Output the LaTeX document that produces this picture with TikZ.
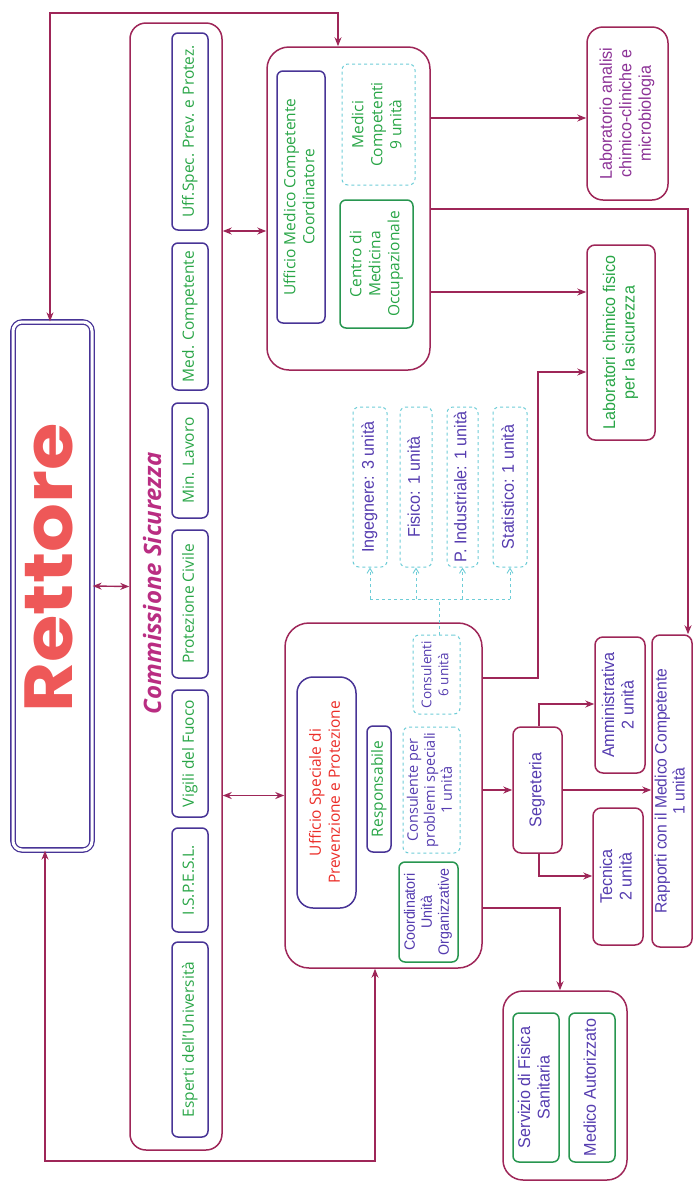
\documentclass[tikz,border=0pt]{standalone}
\usepackage{fontspec}
\usepackage{graphicx}
\usetikzlibrary{arrows.meta}
\setmainfont{Open Sans}
\newfontfamily\narrowf{Liberation Sans}[FakeStretch=0.95]
\newfontfamily\rettfont{Poppins}
\definecolor{maroon}{RGB}{158,38,88}
\definecolor{bv}{RGB}{72,52,150}
\definecolor{grn}{RGB}{40,165,70}
\definecolor{grnb}{RGB}{40,150,80}
\definecolor{cyanb}{RGB}{110,205,215}
\definecolor{bvt}{RGB}{85,60,175}
\definecolor{redt}{RGB}{235,45,40}
\definecolor{magt}{RGB}{185,45,130}
\definecolor{coral}{RGB}{238,88,88}
\definecolor{purp}{RGB}{140,50,150}
\newcommand{\vtext}[2]{\rotatebox{90}{#1\begin{tabular}{@{}c@{}}#2\end{tabular}}}
\newcommand{\cf}{\fontsize{15.5}{19}\selectfont}
\newcommand{\nf}{\narrowf\fontsize{17}{19.5}\selectfont}
\tikzset{
  outerbox/.style={draw=maroon, line width=1.5pt, rounded corners=18pt, inner sep=0pt},
  inbox/.style={draw=bv, line width=1.5pt, rounded corners=6pt, inner sep=0pt, align=center},
  gbox/.style={draw=grnb, line width=1.5pt, rounded corners=6pt, inner sep=0pt, align=center},
  dbox/.style={draw=cyanb, dashed, line width=1pt, rounded corners=6pt, inner sep=0pt, align=center},
  mbox/.style={draw=maroon, line width=1.5pt, rounded corners=8pt, inner sep=0pt, align=center},
  conn/.style={draw=maroon, line width=1.4pt, -{Stealth[length=9pt,width=7pt]}},
  conn2/.style={draw=maroon, line width=1.4pt, {Stealth[length=9pt,width=7pt]}-{Stealth[length=9pt,width=7pt]}},
  cline/.style={draw=cyanb, dashed, line width=0.9pt},
  carr/.style={draw=cyanb, dashed, line width=0.9pt, -{Straight Barb[length=5pt,width=6pt]}}
}
\begin{document}
\begin{tikzpicture}[x=1pt,y=-1pt]
\path[use as bounding box] (0,0) rectangle (695,1184);
% Rettore
\node[draw=bv, line width=1.3pt, double=white, double distance=3pt, rounded corners=9pt,
      minimum width=79pt, minimum height=528pt, inner sep=0pt] (rett) at (52.5,586) {};
\node[text=coral] (rtext) at (49,568) {\rotatebox{90}{\scalebox{1.13}[1]{\rettfont\bfseries\fontsize{68}{68}\selectfont Rettore}}};
% Commissione
\node[outerbox, rounded corners=16pt, minimum width=92pt, minimum height=1127pt] (comm) at (176,586.5) {};
\node[text=magt] (commt) at (152,583) {\rotatebox{90}{\itshape\bfseries\fontsize{24}{24}\selectfont Commissione Sicurezza}};
\node[inbox, minimum width=36pt, minimum height=197pt, text=grn] (uffspec) at (190,131.5) {\vtext{\cf}{Uff.Spec. Prev. e Protez.}};
\node[inbox, minimum width=36pt, minimum height=147pt, text=grn] (medcomp) at (190,316.5) {\vtext{\cf}{Med. Competente}};
\node[inbox, minimum width=36pt, minimum height=115pt, text=grn] (minlav) at (190,460.5) {\vtext{\cf}{Min. Lavoro}};
\node[inbox, minimum width=36pt, minimum height=148pt, text=grn] (protciv) at (190,604) {\vtext{\cf}{Protezione Civile}};
\node[inbox, minimum width=36pt, minimum height=127pt, text=grn] (vigili) at (190,753.5) {\vtext{\cf}{Vigili del Fuoco}};
\node[inbox, minimum width=36pt, minimum height=104pt, text=grn] (ispesl) at (190,880) {\vtext{\cf}{I.S.P.E.S.L.}};
\node[inbox, minimum width=36pt, minimum height=195pt, text=grn] (esperti) at (190,1039.5) {\vtext{\cf}{Esperti dell'Università}};
% Ufficio Medico Competente
\node[outerbox, rounded corners=22pt, minimum width=163pt, minimum height=323pt] (umc) at (348.5,208.5) {};
\node[inbox, minimum width=48pt, minimum height=252pt, text=grn] (umcc) at (301,197) {\vtext{\cf}{Ufficio Medico Competente\\ Coordinatore}};
\node[dbox, minimum width=73pt, minimum height=121pt, text=grn] (medici) at (378.5,124.5) {\vtext{\cf}{Medici\\ Competenti\\ 9 unità}};
\node[gbox, minimum width=73pt, minimum height=128pt, text=grn] (centro) at (376.5,264) {\vtext{\cf}{Centro di\\ Medicina\\ Occupazionale}};
% Laboratori
\node[mbox, rounded corners=16pt, minimum width=81pt, minimum height=173pt, text=purp] (laba) at (627.5,113.5) {\vtext{\nf}{Laboratorio analisi\\ chimico-cliniche e\\ microbiologia}};
\node[mbox, minimum width=68pt, minimum height=195pt, text=grn] (labc) at (621,342.5) {\vtext{\nf}{Laboratori chimico fisico\\ per la sicurezza}};
% Ufficio Speciale
\node[outerbox, rounded corners=24pt, minimum width=197pt, minimum height=345pt] (uspp) at (383.5,795.5) {};
\node[inbox, rounded corners=16pt, minimum width=59pt, minimum height=231pt, text=redt] (usppt) at (326.5,792.5) {\vtext{\cf}{Ufficio Speciale di\\ Prevenzione e Protezione}};
\node[inbox, minimum width=24pt, minimum height=126pt, text=grn] (resp) at (379,789) {\vtext{\cf}{Responsabile}};
\node[dbox, minimum width=57pt, minimum height=126pt, text=bvt] (consprob) at (431.5,790) {\vtext{\fontsize{14.5}{17}\selectfont}{Consulente per\\ problemi speciali\\ 1 unità}};
\node[dbox, minimum width=47pt, minimum height=79pt, text=bvt] (cons) at (436.5,674.5) {\vtext{\fontsize{13.5}{17}\selectfont}{Consulenti\\ 6 unità}};
\node[gbox, minimum width=59pt, minimum height=100pt, text=bvt] (coord) at (428.5,912) {\vtext{\narrowf\fontsize{15}{17}\selectfont}{Coordinatori\\ Unità\\ Organizzative}};
% Consulenti
\node[dbox, minimum width=34pt, minimum height=160pt, text=bvt] (ing) at (370,487) {\vtext{\nf}{Ingegnere: 3 unità}};
\node[dbox, minimum width=32pt, minimum height=160pt, text=bvt] (fis) at (416,487) {\vtext{\nf}{Fisico: 1 unità}};
\node[dbox, minimum width=31pt, minimum height=160pt, text=bvt] (pind) at (462.5,487) {\vtext{\nf}{P. Industriale: 1 unità}};
\node[dbox, minimum width=34pt, minimum height=160pt, text=bvt] (stat) at (510,487) {\vtext{\nf}{Statistico: 1 unità}};
% Segreteria
\node[mbox, minimum width=49pt, minimum height=126pt, text=bvt] (segr) at (537.5,790) {\vtext{\nf}{Segreteria}};
\node[mbox, minimum width=50pt, minimum height=136pt, text=bvt] (amm) at (620,705) {\vtext{\nf}{Amministrativa\\ 2 unità}};
\node[mbox, minimum width=50pt, minimum height=137pt, text=bvt] (tec) at (618,876.5) {\vtext{\nf}{Tecnica\\ 2 unità}};
\node[mbox, minimum width=40pt, minimum height=312pt, text=bvt] (rapp) at (672,791) {\vtext{\narrowf\fontsize{16.5}{18}\selectfont}{Rapporti con il Medico Competente\\ 1 unità}};
% Servizio
\node[outerbox, rounded corners=20pt, minimum width=124pt, minimum height=189pt] (serv) at (565,1085.5) {};
\node[gbox, minimum width=46pt, minimum height=149pt, text=bvt] (sfs) at (536,1087.5) {\vtext{\nf}{Servizio di Fisica\\ Sanitaria}};
\node[gbox, minimum width=46pt, minimum height=149pt, text=bvt] (medaut) at (592,1087.5) {\vtext{\nf}{Medico Autorizzato}};
% Connectors
\coordinate (t1) at (50,13);
\coordinate (t2) at (338,13);
\draw[conn2] (rett.north -| t1) -- (t1) -- (t2) -- (t2 |- umc.north);
\coordinate (b1) at (45,1161);
\coordinate (b2) at (375,1161);
\draw[conn2] (rett.south -| b1) -- (b1) -- (b2) -- (b2 |- uspp.south);
\draw[conn2] (rett.east) -- (comm.west);
\coordinate (cu) at (0,231);
\draw[conn2] (comm.east |- cu) -- (umc.west |- cu);
\draw[conn2] (comm.east |- uspp.west) -- (uspp.west);
\coordinate (ya) at (0,118);
\draw[conn] (umc.east |- ya) -- (laba.west |- ya);
\coordinate (r1) at (688,209);
\draw[conn] (umc.east |- r1) -- (r1) -- (r1 |- rapp.north);
\coordinate (yc) at (0,292);
\draw[conn] (umc.east |- yc) -- (labc.west |- yc);
\coordinate (l1) at (538,678);
\coordinate (l2) at (538,372);
\draw[conn] (uspp.east |- l1) -- (l1) -- (l2) -- (labc.west |- l2);
\draw[conn] (uspp.east |- segr.west) -- (segr.west);
\coordinate (s1) at (560,908);
\draw[conn] (uspp.east |- s1) -- (s1) -- (s1 |- serv.north);
\coordinate (a1) at (539,704);
\draw[conn] (segr.north -| a1) -- (a1) -- (amm.west |- a1);
\draw[conn] (segr.east) -- (rapp.west |- segr.east);
\coordinate (a2) at (539,876);
\draw[conn] (segr.south -| a2) -- (a2) -- (tec.west |- a2);
\coordinate (k0) at (439,599);
\coordinate (kl) at (370,599);
\coordinate (kr) at (510,599);
\draw[cline] (cons.north -| k0) -- (k0);
\draw[cline] (kl) -- (kr);
\foreach \n in {ing,fis,pind,stat} {\draw[carr] (\n.south |- k0) -- (\n.south);}
\end{tikzpicture}
\end{document}
